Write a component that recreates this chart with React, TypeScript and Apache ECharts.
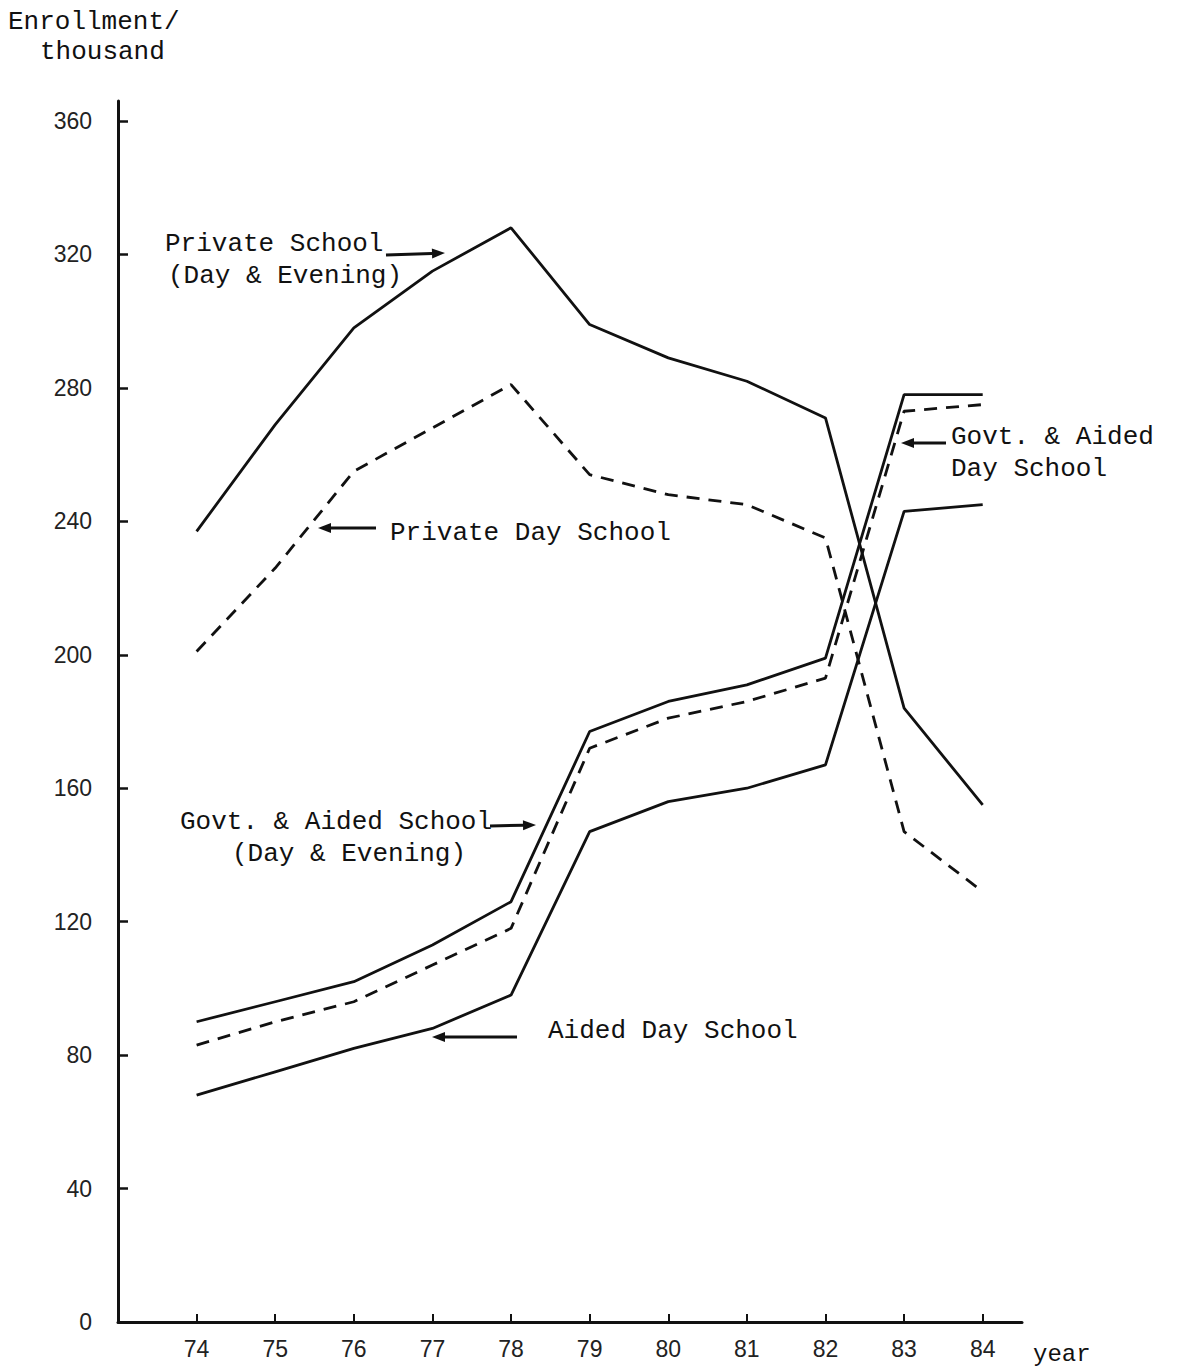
import React, { useEffect, useRef } from "react";
import * as echarts from "echarts";

const years = [74, 75, 76, 77, 78, 79, 80, 81, 82, 83, 84];
const yTicks = [0, 40, 80, 120, 160, 200, 240, 280, 320, 360];

const privateTotal = [237, 269, 298, 315, 328, 299, 289, 282, 271, 184, 155];
const privateDay = [201, 226, 255, 268, 281, 254, 248, 245, 235, 147, 129];
const govtTotal = [90, 96, 102, 113, 126, 177, 186, 191, 199, 278, 278];
const govtDay = [83, 90, 96, 107, 118, 172, 181, 186, 193, 273, 275];
const aidedDay = [68, 75, 82, 88, 98, 147, 156, 160, 167, 243, 245];

const MONO = "'Liberation Mono', 'DejaVu Sans Mono', monospace";
const SANS = "'Liberation Sans', 'DejaVu Sans', sans-serif";
const INK = "#111";

function pts(vals: number[]) {
  return years.map((y, i) => [y, vals[i]]);
}

function label(text: string, x: number, y: number, size = 26) {
  return {
    type: "text",
    x,
    y,
    style: { text, font: `${size}px ${MONO}`, fill: INK, textVerticalAlign: "middle" },
  };
}

function arrow(x1: number, y1: number, x2: number, y2: number) {
  const dx = x2 - x1;
  const dy = y2 - y1;
  const len = Math.sqrt(dx * dx + dy * dy);
  const ux = dx / len;
  const uy = dy / len;
  const hl = 13;
  const hw = 5;
  const bx = x2 - ux * hl;
  const by = y2 - uy * hl;
  return [
    {
      type: "line",
      shape: { x1, y1, x2: bx, y2: by },
      style: { stroke: INK, lineWidth: 3 },
    },
    {
      type: "polygon",
      shape: {
        points: [
          [x2, y2],
          [bx - uy * hw, by + ux * hw],
          [bx + uy * hw, by - ux * hw],
        ],
      },
      style: { fill: INK },
    },
  ];
}

function lineSeries(name: string, vals: number[], dashed: boolean) {
  return {
    name,
    type: "line",
    data: pts(vals),
    showSymbol: false,
    symbol: "none",
    lineStyle: { color: INK, width: 2.8, type: dashed ? [13, 9] : "solid" },
  };
}

export default function App() {
  const ref = useRef<HTMLDivElement>(null);
  useEffect(() => {
    if (!ref.current) return;
    const chart = echarts.init(ref.current, undefined, { renderer: "svg" });
    chart.setOption({
      animation: false,
      backgroundColor: "#fff",
      grid: { left: 118, right: 155, top: 101, bottom: 49 },
      xAxis: {
        type: "value",
        min: 73,
        max: 84.5,
        interval: 1,
        axisLine: { onZero: false, lineStyle: { color: INK, width: 3 } },
        axisTick: { inside: true, length: 8, customValues: years, lineStyle: { color: INK, width: 2 } },
        axisLabel: { customValues: years, fontSize: 23, fontFamily: SANS, color: "#222", margin: 15 },
        splitLine: { show: false },
      },
      yAxis: {
        type: "value",
        min: 0,
        max: 366,
        interval: 40,
        axisLine: { show: true, onZero: false, lineStyle: { color: INK, width: 3 } },
        axisTick: { show: true, inside: true, length: 10, customValues: yTicks.slice(1), lineStyle: { color: INK, width: 2.5 } },
        axisLabel: { customValues: yTicks, fontSize: 23, fontFamily: SANS, color: "#222", margin: 26 },
        splitLine: { show: false },
      },
      series: [
        lineSeries("Private School (Day & Evening)", privateTotal, false),
        lineSeries("Private Day School", privateDay, true),
        lineSeries("Govt. & Aided School (Day & Evening)", govtTotal, false),
        lineSeries("Govt. & Aided Day School", govtDay, true),
        lineSeries("Aided Day School", aidedDay, false),
      ],
      graphic: [
        label("Enrollment/", 8, 22),
        label("thousand", 40, 52),
        label("year", 1033, 1354, 24),
        label("Private School", 165, 244),
        label("(Day & Evening)", 168, 276),
        ...arrow(386, 255, 445, 253),
        label("Private Day School", 390, 533),
        ...arrow(376, 528, 318, 528),
        label("Govt. & Aided", 951, 437),
        label("Day School", 951, 469),
        ...arrow(946, 443, 901, 443),
        label("Govt. & Aided School", 180, 822),
        label("(Day & Evening)", 232, 854),
        ...arrow(490, 826, 536, 825),
        label("Aided Day School", 548, 1031),
        ...arrow(517, 1037, 432, 1037),
      ],
    });
    return () => chart.dispose();
  }, []);
  return (
    <div
      ref={ref}
      style={{ position: "absolute", left: 0, top: 0, width: 1177, height: 1371, background: "#fff" }}
    />
  );
}
